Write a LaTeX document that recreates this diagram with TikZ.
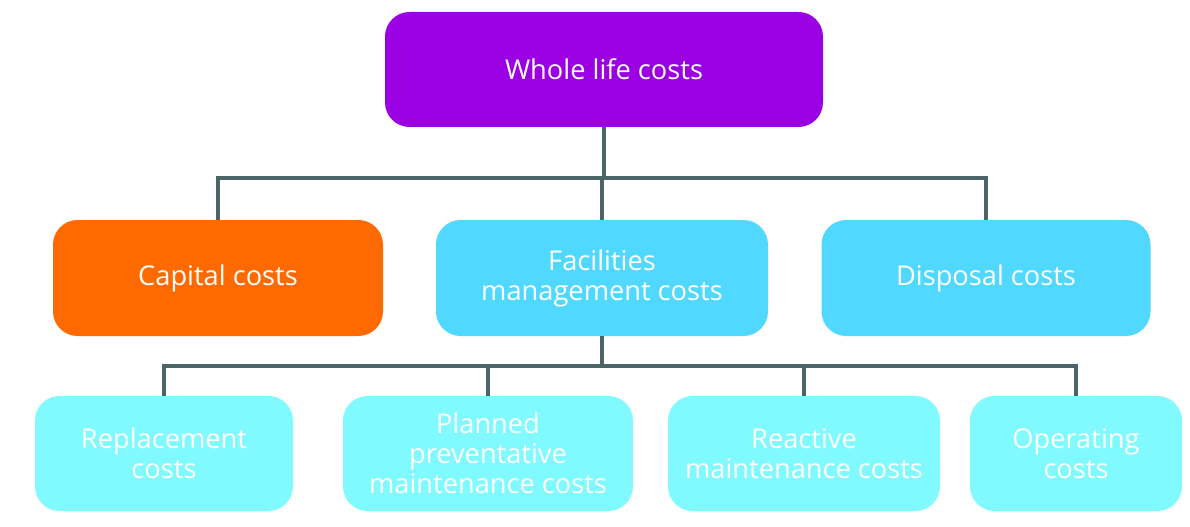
\documentclass[tikz,border=0pt]{standalone}
\usepackage{fontspec}
\setmainfont{Open Sans}
\begin{document}
\begin{tikzpicture}[x=0.02cm,y=-0.02cm,
 box/.style={rounded corners=14pt,text=white,align=center,font=\fontsize{15.5}{17}\selectfont,inner sep=0pt},
 link/.style={draw=lcol,line width=1.8pt}]
\definecolor{lcol}{HTML}{4A6468}
\definecolor{purp}{HTML}{9A00E2}
\definecolor{oran}{HTML}{FF6A00}
\definecolor{mblue}{HTML}{50D8FF}
\definecolor{lcyan}{HTML}{80FAFF}
\useasboundingbox (0,0) rectangle (1190,527);
\node[box,fill=purp,minimum width=438*0.02cm,minimum height=115*0.02cm] (w) at (604,69.5) {Whole life costs};
\node[box,fill=oran,minimum width=330*0.02cm,minimum height=116*0.02cm] (c) at (218,278) {Capital costs};
\node[box,fill=mblue,minimum width=332*0.02cm,minimum height=116*0.02cm] (f) at (602,278) {Facilities\\management costs};
\node[box,fill=mblue,minimum width=329*0.02cm,minimum height=116*0.02cm] (d) at (986,278) {Disposal costs};
\node[box,fill=lcyan,minimum width=258*0.02cm,minimum height=115*0.02cm] (r) at (164,453.5) {Replacement\\costs};
\node[box,fill=lcyan,minimum width=290*0.02cm,minimum height=115*0.02cm] (p) at (488,453.5) {Planned\\preventative\\maintenance costs};
\node[box,fill=lcyan,minimum width=272*0.02cm,minimum height=115*0.02cm] (a) at (804,453.5) {Reactive\\maintenance costs};
\node[box,fill=lcyan,minimum width=212*0.02cm,minimum height=115*0.02cm] (o) at (1076,453.5) {Operating\\costs};
\begin{scope}[on background layer/.try]
\end{scope}
\draw[link] (w.south) -- ++(0,51);
\draw[link] (c.north) |- (w.south |- 0,178) -| (d.north);
\draw[link] (f.north) -- ++(0,-42);
\draw[link] (f.south) -- ++(0,30);
\draw[link] (r.north) |- (f.south |- 0,366) -| (o.north);
\draw[link] (p.north) -- ++(0,-30);
\draw[link] (a.north) -- ++(0,-30);
\end{tikzpicture}
\end{document}
